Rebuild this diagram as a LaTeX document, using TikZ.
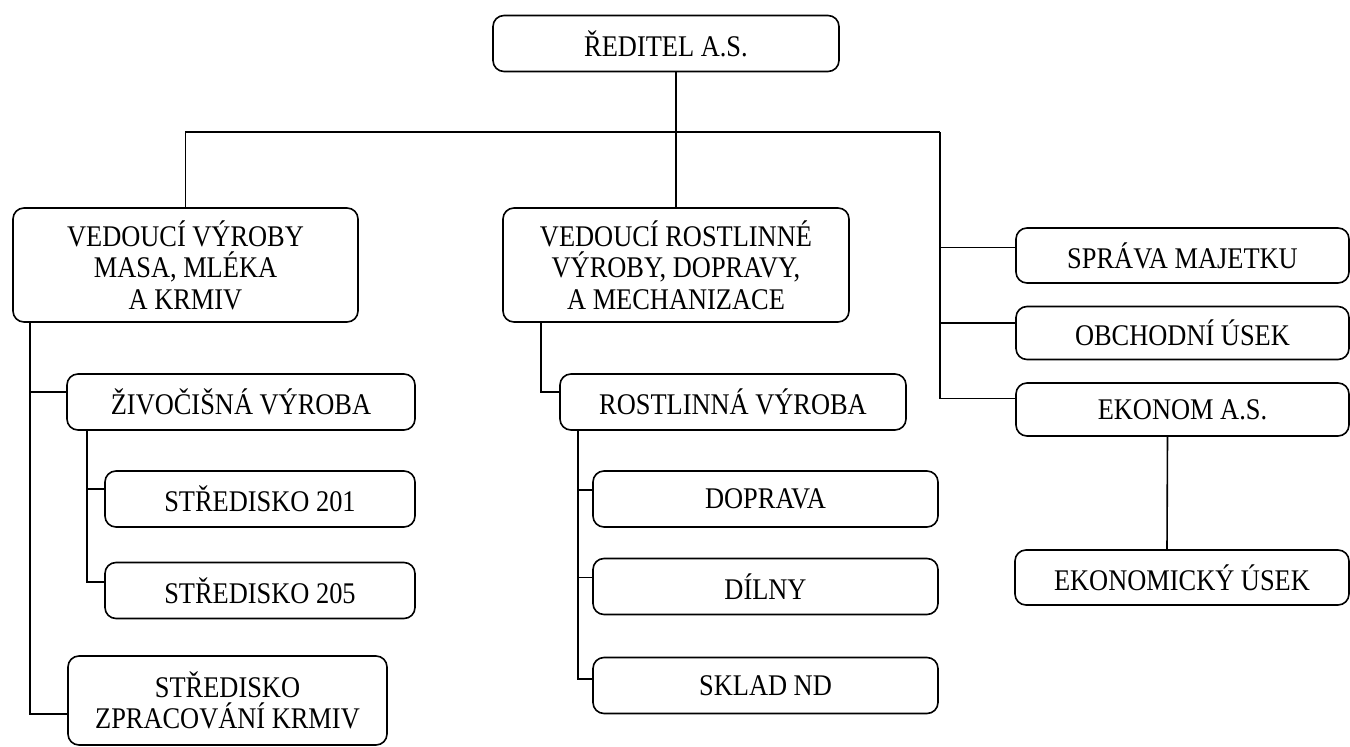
\documentclass[tikz,border=0pt]{standalone}
\usepackage{fontspec}
\setmainfont[FakeStretch=0.88]{Liberation Serif}
\usetikzlibrary{positioning}
\begin{document}
\begin{tikzpicture}[x=1pt, y=-1pt, line width=1.6pt, font=\fontsize{30}{31.5}\selectfont,
    box/.style = {draw, rounded corners=11pt, align=center, inner sep=0pt, minimum height=56pt},
    wide/.style = {box, minimum width=346pt}]
    \useasboundingbox (0,0) rectangle (1350,747);
    \node[wide, minimum width=346pt] (red) at (666,43.5) {ŘEDITEL A.S.};
    \node[wide, minimum width=345pt, minimum height=114pt] (vmm) at (185.5,265) {VEDOUCÍ VÝROBY\\MASA, MLÉKA\\A KRMIV};
    \node[wide, minimum height=114pt] (vrv) at (676,265) {VEDOUCÍ ROSTLINNÉ\\VÝROBY, DOPRAVY,\\A MECHANIZACE};

    \node[wide, minimum width=348pt] (zv) at (241,402) {ŽIVOČIŠNÁ VÝROBA};
    \node[box, minimum width=310pt] (s201) at (260,499) {STŘEDISKO 201};
    \node[box, minimum width=310pt] (s205) at (260,590.5) {STŘEDISKO 205};
    \node[box, minimum width=319pt, minimum height=89pt] (szk) at (227.5,700.5) {STŘEDISKO\\ZPRACOVÁNÍ KRMIV};

    \node[wide] (rv) at (733,402) {ROSTLINNÁ VÝROBA};
    \node[wide, minimum width=345pt] (dop) at (765.5,499) {DOPRAVA};
    \node[wide, minimum width=345pt] (dil) at (765.5,586.5) {DÍLNY};
    \node[wide, minimum width=345pt] (snd) at (765.5,685.5) {SKLAD ND};

    \node[box, minimum width=333pt, minimum height=55pt] (sm) at (1182.5,255.5) {SPRÁVA MAJETKU};
    \node[box, minimum width=333pt, minimum height=53pt] (ou) at (1182.5,333) {OBCHODNÍ ÚSEK};
    \node[box, minimum width=333pt, minimum height=53pt] (eko) at (1182.5,409.5) {EKONOM A.S.};
    \node[box, minimum width=334pt, minimum height=55pt] (eu) at (1182,577.5) {EKONOMICKÝ ÚSEK};

    \coordinate (bus) at (940,132);
    \draw (red.south -| vrv.north) -- (vrv.north);
    \draw (vmm.north) |- (bus);
    \draw (bus) |- ([yshift=11pt]eko.west);
    \draw (bus |- sm.west) ++(0,-8) -- ([yshift=8pt]sm.west);
    \draw (bus |- ou.west) ++(0,-10) -- ([yshift=10pt]ou.west);
    \draw ([xshift=-15pt]eko.south) -- ([xshift=-15pt]eu.north);

    % left branch
    \draw ([xshift=18pt]vmm.south west) |- ([yshift=-13.5pt]szk.west);
    \draw ([xshift=18pt]vmm.south west |- zv.west) ++(0,-10) -- ([yshift=10pt]zv.west);
    \draw ([xshift=21pt]zv.south west) |- ([yshift=8.5pt]s205.west);
    \draw ([xshift=21pt]zv.south west |- s201.west) ++(0,-10) -- ([yshift=10pt]s201.west);

    % middle branch
    \draw ([xshift=39pt]vrv.south west) |- ([yshift=10pt]rv.west);
    \draw ([xshift=19pt]rv.south west) |- ([yshift=6.5pt]snd.west);
    \draw ([xshift=19pt]rv.south west |- dop.west) ++(0,-9) -- ([yshift=9pt]dop.west);
    \draw ([xshift=19pt]rv.south west |- dil.west) ++(0,-9) -- ([yshift=9pt]dil.west);
\end{tikzpicture}
\end{document}
